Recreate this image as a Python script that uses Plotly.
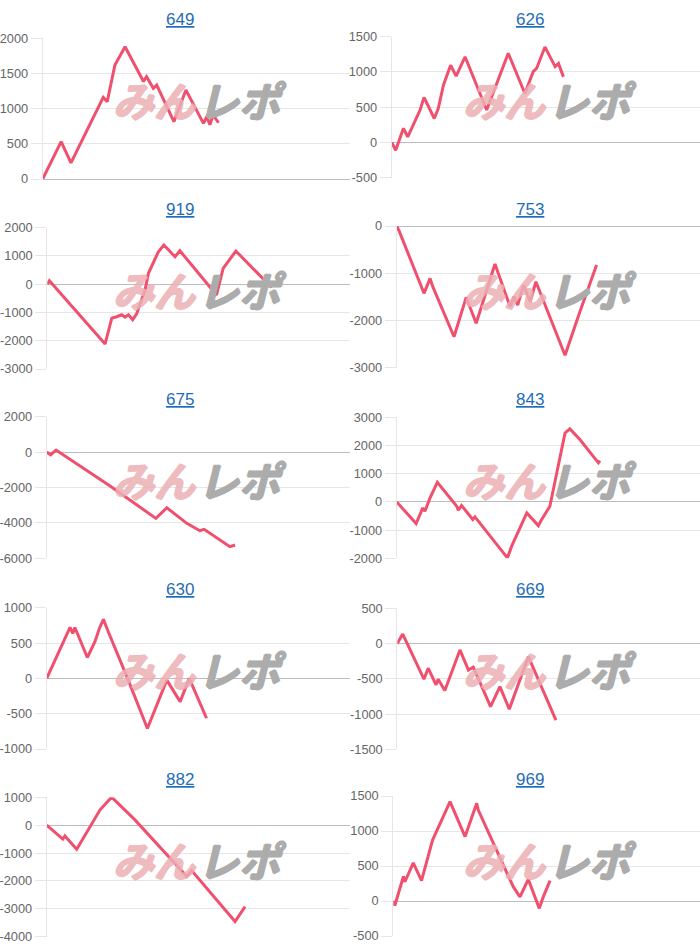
import plotly.graph_objects as go

# ---------------- data ----------------
titles = ["649", "626", "919", "753", "675", "843", "630", "669", "882", "969"]

x1 = [0, 6.0, 9.2, 19.7, 21.0, 23.5, 26.8, 32.8, 33.8, 36.0, 37.1, 42.7, 46.6, 52.3, 53.4, 54.4, 55.5, 57.2]
y1 = [0, 530, 230, 1160, 1100, 1620, 1880, 1385, 1455, 1290, 1335, 815, 1265, 790, 885, 770, 910, 800]

x2 = [0, 1.3, 3.8, 5.2, 9.2, 10.5, 13.8, 15.1, 16.8, 19.1, 20.9, 23.8, 30.8, 37.8, 43.2, 45.9, 47.0, 49.7, 53.0, 54.1, 55.7]
y2 = [0, -110, 200, 80, 460, 640, 340, 480, 815, 1095, 940, 1215, 460, 1265, 695, 1005, 1050, 1355, 1075, 1120, 930]

x3 = [0, 0.7, 19.1, 21.3, 22.9, 24.6, 25.7, 26.8, 28.2, 29.5, 32.3, 33.4, 36.7, 38.5, 42.2, 43.8, 55.9, 58.1, 62.3, 74.1]
y3 = [0, 120, -2115, -1200, -1150, -1080, -1165, -1080, -1260, -1050, -205, 385, 1150, 1385, 975, 1185, -380, 560, 1175, -115]

x4 = [0, 0.9, 9.0, 11.0, 11.9, 18.9, 22.9, 26.2, 32.4, 37.4, 38.7, 39.9, 41.8, 44.0, 45.9, 55.5, 60.4, 65.9]
y4 = [0, -120, -1425, -1110, -1285, -2345, -1510, -2060, -805, -1710, -1495, -1675, -1250, -1605, -1180, -2735, -1815, -825]

x5 = [0, 1.3, 3.1, 20.9, 36.0, 39.6, 46.2, 50.5, 51.9, 60.4, 62.1]
y5 = [0, -150, 115, -1920, -3745, -3145, -4025, -4440, -4365, -5345, -5250]

x6 = [0, 6.4, 8.6, 9.3, 11.0, 13.4, 19.8, 20.3, 21.4, 25.1, 25.8, 36.5, 37.9, 42.9, 46.7, 47.8, 50.5, 51.6, 55.5, 57.1, 60.4, 66.5, 67.0]
y6 = [0, -770, -215, -330, 140, 695, -155, -295, -130, -625, -530, -1985, -1570, -390, -840, -625, -155, 435, 2445, 2590, 2210, 1385, 1465]

x7 = [0, 3.1, 7.7, 8.6, 9.3, 13.4, 15.9, 17.4, 18.7, 20.3, 26.9, 33.2, 39.6, 44.0, 47.0, 52.7]
y7 = [0, 285, 720, 635, 720, 295, 520, 710, 835, 660, -25, -710, -25, -330, 0, -565]

x8 = [0, 1.8, 8.8, 10.2, 12.8, 13.5, 15.7, 20.7, 23.5, 25.1, 30.8, 33.9, 37.0, 43.3, 52.4]
y8 = [0, 135, -505, -350, -585, -505, -665, -90, -375, -335, -895, -610, -930, -185, -1085]

x9 = [0, 5.3, 6.0, 9.9, 17.6, 21.1, 22.0, 29.1, 46.2, 47.8, 62.1, 65.4]
y9 = [0, -500, -385, -860, 550, 970, 945, 190, -1840, -1625, -3455, -2920]

x10 = [0, 0.5, 3.3, 3.8, 6.5, 9.2, 12.8, 18.5, 23.4, 27.2, 27.7, 31.5, 39.1, 41.3, 44.0, 47.6, 48.9, 51.1]
y10 = [0, -65, 350, 275, 545, 290, 870, 1420, 920, 1395, 1300, 940, 205, 60, 310, -105, 60, 290]

tick_vals = [
    [0, 500, 1000, 1500, 2000],
    [-500, 0, 500, 1000, 1500],
    [-3000, -2000, -1000, 0, 1000, 2000],
    [-3000, -2000, -1000, 0],
    [-6000, -4000, -2000, 0, 2000],
    [-2000, -1000, 0, 1000, 2000, 3000],
    [-1000, -500, 0, 500, 1000],
    [-1500, -1000, -500, 0, 500],
    [-4000, -3000, -2000, -1000, 0, 1000],
    [-500, 0, 500, 1000, 1500],
]
tick_text = [[str(v) for v in tv] for tv in tick_vals]

xs = [x1, x2, x3, x4, x5, x6, x7, x8, x9, x10]
ys = [y1, y2, y3, y4, y5, y6, y7, y8, y9, y10]

# ---------------- layout geometry (pixels) ----------------
W, H = 700, 948
left_px = [42.7, 391.7, 47.3, 396.7, 46.7, 396.7, 46.7, 397.3, 46.7, 393.3]
top_px = [38.3, 36.7, 227.7, 226.0, 416.7, 417.3, 607.7, 608.3, 797.3, 796.0]
bot_px = [179.0, 177.7, 369.0, 367.7, 558.3, 558.3, 749.0, 749.3, 936.7, 936.0]

LINE = "rgb(240,80,110)"
GRID = "#e6e6e6"
TICKFONT = dict(family="Liberation Sans, Arial, sans-serif", size=12.8, color="#666666")

PINK = "rgb(236,176,181)"
GRAY = "rgb(172,172,172)"


def thick(c):
    return f"1px 0 0 {c}, -1px 0 0 {c}, 0 1px 0 {c}, 0 -1px 0 {c}"


fig = go.Figure()
annotations = []
for i in range(10):
    col = i % 2
    row = i // 2
    n = "" if i == 0 else str(i + 1)
    right = 350.0 if col == 0 else 700.0
    fig.add_trace(go.Scatter(
        x=xs[i], y=ys[i], mode="lines",
        line=dict(color=LINE, width=3),
        xaxis="x" + n, yaxis="y" + n, showlegend=False, hoverinfo="skip",
    ))
    fig.layout["xaxis" + n] = dict(
        domain=[left_px[i] / W, right / W], range=[0, 100],
        showgrid=False, zeroline=False, showticklabels=False, ticks="",
        showline=False, fixedrange=True, anchor="y" + n,
    )
    tv = tick_vals[i]
    fig.layout["yaxis" + n] = dict(
        domain=[1 - bot_px[i] / H, 1 - top_px[i] / H],
        range=[min(tv), max(tv)],
        tickvals=tv, ticktext=tick_text[i],
        showgrid=True, gridcolor=GRID, gridwidth=1,
        zeroline=True, zerolinecolor="#bdbdbd", zerolinewidth=1,
        showline=True, linecolor=GRID, linewidth=1,
        ticks="outside", ticklen=11, tickcolor=GRID, tickwidth=1,
        tickfont=TICKFONT, fixedrange=True, anchor="x" + n, automargin=False,
    )
    cx = (180 if col == 0 else 530) / W
    y0 = row * 190
    annotations.append(dict(
        text="<u>" + titles[i] + "</u>", xref="paper", yref="paper",
        x=cx, y=1 - (y0 + 19) / H, xanchor="center", yanchor="middle",
        showarrow=False,
        font=dict(family="Liberation Sans, Arial, sans-serif", size=17, color="#1f6db8"),
    ))
    # watermark logo (text approximation)
    ox = col * 350
    annotations.append(dict(
        text="<b>みん</b>", xref="paper", yref="paper",
        x=(ox + 154) / W, y=1 - (y0 + 99) / H, xanchor="center", yanchor="middle",
        showarrow=False, opacity=0.85,
        font=dict(family="Noto Sans CJK JP", size=41, weight=900,
                  color=PINK, style="italic", shadow=thick(PINK)),
    ))
    annotations.append(dict(
        text="<b>レポ</b>", xref="paper", yref="paper",
        x=(ox + 242) / W, y=1 - (y0 + 99) / H, xanchor="center", yanchor="middle",
        showarrow=False,
        font=dict(family="Noto Sans CJK JP", size=41, weight=900,
                  color=GRAY, style="italic", shadow=thick(GRAY)),
    ))

fig.update_layout(
    width=W, height=H, autosize=False, margin=dict(l=0, r=0, t=0, b=0, pad=0, autoexpand=False),
    paper_bgcolor="white", plot_bgcolor="white",
    annotations=annotations, showlegend=False,
)

post = (
    "document.documentElement.style.margin='0';"
    "document.body.style.margin='0';document.body.style.padding='0';"
    "document.body.style.overflow='hidden';"
    "var gd=document.getElementById('{plot_id}');"
    "gd.style.width='700px';gd.style.height='948px';"
    "Plotly.relayout(gd,{width:700,height:948});"
)

fig.write_html("out.html", include_plotlyjs=True,
               config={"displayModeBar": False, "responsive": False},
               post_script=post)
